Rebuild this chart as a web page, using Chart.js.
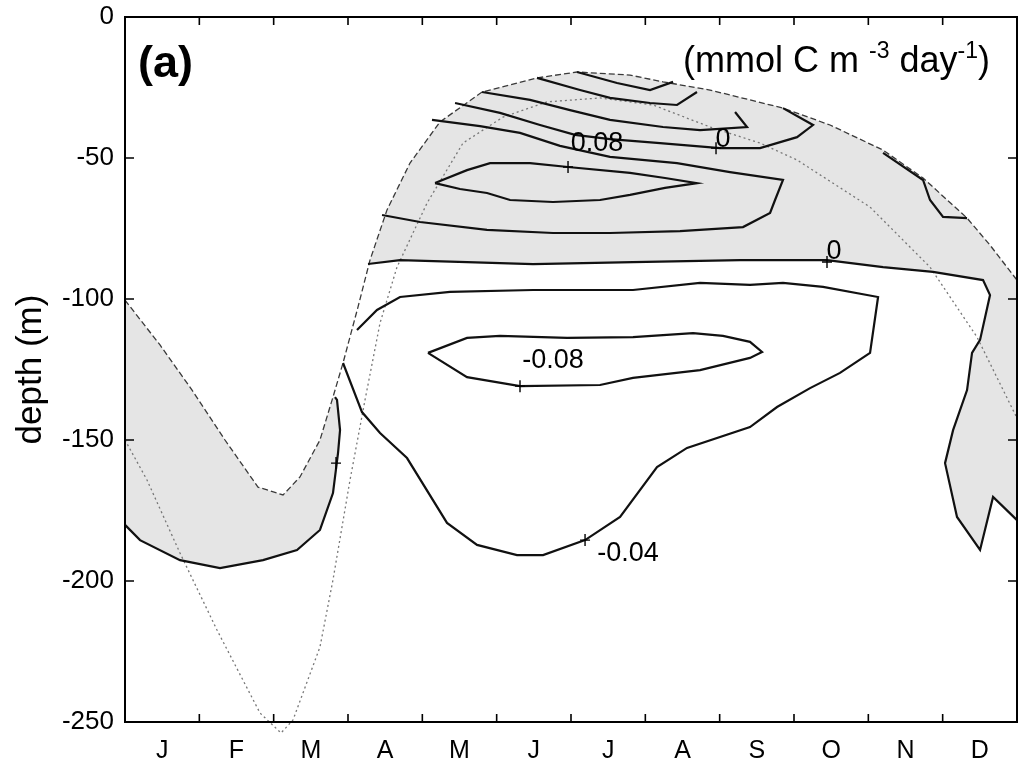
<!DOCTYPE html>
<html>
<head>
<meta charset="utf-8">
<script src="https://cdn.jsdelivr.net/npm/chart.js@4.4.1/dist/chart.umd.min.js"></script>
<style>
  html,body{margin:0;padding:0;background:#fff;}
  #wrap{position:relative;width:1021px;height:776px;}
  canvas{display:block;}
</style>
</head>
<body>
<div id="wrap"><canvas id="c" width="1021" height="776"></canvas></div>
<script>
// ---------- axis labels ----------
const months = ['J','F','M','A','M','J','J','A','S','O','N','D'];
const monthCenters = [0.5,1.5,2.5,3.5,4.5,5.5,6.5,7.5,8.5,9.5,10.5,11.5];
const monthEdges = [0,1,2,3,4,5,6,7,8,9,10,11,12];
const depthTicks = [0,-50,-100,-150,-200,-250];

// ---------- thin dashed curve (upper) ----------
const mldMonth = [0,0.471,0.902,1.345,1.789,2.126,2.354,2.623,2.798,2.933,3.135,3.296,3.525,3.834,4.238,4.803,5.543,6.081,6.794,7.238,7.870,8.852,9.485,10.198,10.736,11.328,11.637,12.0];
const mldDepth = [-100.4,-116.3,-132.3,-150.0,-166.7,-169.5,-163.1,-150.0,-134.8,-122.7,-102.8,-86.2,-68.4,-51.8,-37.2,-26.6,-21.6,-19.5,-20.6,-23.0,-25.9,-32.3,-38.3,-47.2,-57.1,-71.3,-80.9,-93.3];

// ---------- thin dotted curve (lower) ----------
const dotMonth = [0,0.296,0.740,1.238,1.816,2.099,2.260,2.623,2.798,3.027,3.229,3.431,3.659,4.063,4.547,5.085,5.677,6.390,7.103,7.870,8.543,9.041,10.023,10.830,11.462,11.947,12.0];
const dotDepth = [-150.0,-164.2,-190.1,-217.4,-246.8,-253.9,-249.3,-223.4,-199.6,-164.2,-135.8,-108.5,-88.7,-66.0,-44.7,-35.5,-30.1,-28.7,-31.2,-39.0,-44.7,-50.7,-67.4,-88.7,-113.5,-139.4,-142.2];

// ---------- contour: 0 (winter, left) ----------
const zeroWMonth = [0,0.202,0.740,1.278,1.857,2.314,2.623,2.798,2.866,2.893,2.852,2.825];
const zeroWDepth = [-180.1,-185.5,-192.6,-195.4,-192.6,-189.0,-181.9,-168.8,-154.6,-146.5,-135.8,-134.8];

// ---------- contour: 0 (main, ~ -88 m and right side) ----------
const zeroMonth = [3.269,3.700,4.601,5.489,6.834,8.274,9.444,10.198,10.870,11.543,11.637,11.503,11.395,11.328,11.140,11.032,11.193,11.503,11.678,12.0];
const zeroDepth = [-87.6,-86.2,-86.9,-87.6,-86.9,-86.2,-86.2,-88.7,-90.4,-93.3,-98.6,-114.5,-119.1,-132.3,-146.5,-158.2,-177.3,-189.0,-170.2,-178.4];

// ---------- contour: -0.04 ----------
const neg04Month = [3.121,3.390,3.700,4.372,5.489,6.834,7.736,8.408,8.852,9.391,10.131,10.023,9.619,9.216,8.772,8.408,7.561,7.157,6.660,6.189,5.624,5.274,4.736,4.332,3.794,3.431,3.188,2.933];
const neg04Depth = [-111.0,-103.9,-99.3,-97.5,-96.8,-96.8,-94.3,-95.0,-94.3,-95.7,-99.3,-119.1,-126.2,-131.6,-138.3,-145.4,-152.8,-159.6,-177.3,-185.5,-190.8,-190.8,-187.2,-179.4,-156.4,-147.5,-140.1,-122.7];

// ---------- contour: -0.08 ----------
const neg08Month = [4.076,4.601,5.045,5.947,6.834,7.642,8.045,8.408,8.570,8.408,7.736,6.834,6.390,5.314,4.601,4.076];
const neg08Depth = [-119.1,-113.8,-113.1,-113.8,-113.5,-112.1,-113.1,-115.2,-118.8,-120.9,-125.2,-128.0,-130.5,-130.9,-127.7,-119.1];

// ---------- contour: 0.04 ----------
const pos04Month = [4.130,4.776,5.314,5.852,6.525,7.426,8.139,8.852,8.745,8.678,8.314,7.467,6.525,5.758,4.870,3.969,3.458];
const pos04Depth = [-36.5,-38.7,-41.1,-45.7,-49.6,-51.8,-55.0,-57.8,-64.9,-69.5,-74.5,-75.9,-76.6,-76.6,-75.5,-72.7,-70.2];

// ---------- contour: 0.08 ----------
const pos08Month = [4.171,4.601,4.911,5.449,5.960,6.794,7.265,7.695,7.265,6.794,6.390,5.758,5.180,4.870,4.507,4.171];
const pos08Depth = [-58.9,-54.3,-51.8,-51.8,-53.2,-55.3,-57.1,-58.9,-60.6,-63.1,-64.9,-65.6,-64.9,-62.4,-61.0,-58.9];

// ---------- upper contours near the surface ----------
const top1Month = [6.081,6.619,7.063,7.373];
const top1Depth = [-19.5,-23.4,-25.9,-23.0];
const top2Month = [5.543,6.121,6.525,7.063,7.426,7.695];
const top2Depth = [-21.6,-25.9,-28.7,-30.5,-31.2,-26.6];
const top3Month = [4.803,5.449,5.987,6.525,7.238,7.736,8.368,8.207];
const top3Depth = [-26.6,-29.4,-33.0,-36.5,-39.0,-40.1,-39.0,-33.7];
const top4Month = [4.440,5.045,5.583,6.054,6.525,7.198,8.005,8.543,9.041,9.256,8.852];
const top4Depth = [-30.5,-34.0,-38.3,-41.8,-43.3,-44.7,-46.5,-46.5,-42.6,-38.3,-32.3];
const novMonth = [10.198,10.736,10.830,11.005,11.328];
const novDepth = [-48.2,-57.8,-64.9,-70.9,-71.3];

// ---------- contour labels and their marks ----------
const labelText = ['0.08','0','0','-0.08','-0.04'];
const labelMonth = [6.350,8.045,9.539,5.758,6.767];
const labelDepth = [-44.7,-43.6,-83.3,-122.0,-190.1];
const markMonth = [5.960,7.951,9.444,5.314,6.189,2.839];
const markDepth = [-53.2,-46.5,-86.9,-130.9,-185.5,-158.2];

// ---------- build ----------
const FONT = '"Liberation Sans", Arial, Helvetica, sans-serif';
function pts(xs, ys){ return xs.map((v,i)=>({x:v, y:ys[i]})); }
function contour(xs, ys){
  return {data:pts(xs,ys), showLine:true, borderColor:'#111', borderWidth:2.2,
          pointRadius:0, pointHoverRadius:0, tension:0, fill:false, order:1};
}
// shaded regions (positive values) built from curves above
const shadeLeft = pts(mldMonth.slice(0,9), mldDepth.slice(0,9))
  .concat(pts(zeroWMonth, zeroWDepth).reverse());
const shadeTop = pts(mldMonth.slice(11), mldDepth.slice(11))
  .concat(pts(zeroMonth, zeroDepth).reverse());

const SHADE = '#e5e5e5';
const datasets = [
  contour(zeroWMonth, zeroWDepth),
  contour(zeroMonth, zeroDepth),
  contour(neg04Month, neg04Depth),
  contour(neg08Month, neg08Depth),
  contour(pos04Month, pos04Depth),
  contour(pos08Month, pos08Depth),
  contour(top1Month, top1Depth),
  contour(top2Month, top2Depth),
  contour(top3Month, top3Depth),
  contour(top4Month, top4Depth),
  contour(novMonth, novDepth),
  {data:pts(mldMonth, mldDepth), showLine:true, borderColor:'#3a3a3a', borderWidth:1.3,
   borderDash:[6,3], pointRadius:0, tension:0, fill:false, order:2},
  {data:pts(dotMonth, dotDepth), showLine:true, borderColor:'#777', borderWidth:1.3,
   borderDash:[2,3], pointRadius:0, tension:0, fill:false, order:2, clip:false},
  {data:shadeLeft, showLine:true, borderWidth:0, borderColor:'rgba(0,0,0,0)',
   backgroundColor:SHADE, fill:'shape', pointRadius:0, tension:0, order:10},
  {data:shadeTop, showLine:true, borderWidth:0, borderColor:'rgba(0,0,0,0)',
   backgroundColor:SHADE, fill:'shape', pointRadius:0, tension:0, order:10}
];

const decor = {
  id:'decor',
  afterDatasetsDraw(chart){
    const {ctx, chartArea:a, scales:{x, y}} = chart;
    ctx.save();
    ctx.strokeStyle = '#000';
    // frame
    ctx.lineWidth = 2;
    ctx.strokeRect(a.left, a.top, a.right - a.left, a.bottom - a.top);
    // inward ticks
    ctx.lineWidth = 1.6;
    ctx.beginPath();
    monthEdges.forEach(m => {
      const px = x.getPixelForValue(m);
      ctx.moveTo(px, a.bottom); ctx.lineTo(px, a.bottom - 8);
      ctx.moveTo(px, a.top); ctx.lineTo(px, a.top + 8);
    });
    depthTicks.forEach(d => {
      const py = y.getPixelForValue(d);
      ctx.moveTo(a.left, py); ctx.lineTo(a.left + 9, py);
      ctx.moveTo(a.right, py); ctx.lineTo(a.right - 9, py);
    });
    ctx.stroke();
    // contour label marks (+)
    ctx.lineWidth = 1.4;
    ctx.beginPath();
    markMonth.forEach((m, i) => {
      const px = x.getPixelForValue(m), py = y.getPixelForValue(markDepth[i]);
      ctx.moveTo(px - 5, py); ctx.lineTo(px + 5, py);
      ctx.moveTo(px, py - 6); ctx.lineTo(px, py + 6);
    });
    ctx.stroke();
    // contour labels
    ctx.fillStyle = '#000';
    ctx.font = '27px ' + FONT;
    ctx.textAlign = 'center';
    ctx.textBaseline = 'middle';
    labelText.forEach((t, i) => {
      ctx.fillText(t, x.getPixelForValue(labelMonth[i]), y.getPixelForValue(labelDepth[i]));
    });
    // panel letter
    ctx.textAlign = 'left';
    ctx.textBaseline = 'alphabetic';
    ctx.font = 'bold 45px ' + FONT;
    ctx.fillText('(a)', a.left + 13, a.top + 60);
    // units
    const mainF = '36px ' + FONT, supF = '23px ' + FONT;
    const parts = [['(mmol C m ',0],['-3',1],[' day',0],['-1',1],[')',0]];
    let total = 0;
    parts.forEach(p => { ctx.font = p[1] ? supF : mainF; total += ctx.measureText(p[0]).width; });
    let xx = a.right - 27 - total;
    const base = a.top + 55;
    parts.forEach(p => {
      ctx.font = p[1] ? supF : mainF;
      ctx.fillText(p[0], xx, p[1] ? base - 14 : base);
      xx += ctx.measureText(p[0]).width;
    });
    ctx.restore();
  }
};

Chart.defaults.font.family = FONT;
Chart.defaults.color = '#000';

new Chart(document.getElementById('c'), {
  type:'scatter',
  data:{datasets},
  options:{
    responsive:false,
    animation:false,
    devicePixelRatio:1,
    layout:{padding:{top:17, right:4, bottom:0, left:0}},
    plugins:{legend:{display:false}, tooltip:{enabled:false}},
    scales:{
      x:{
        type:'linear', min:0, max:12,
        afterBuildTicks: s => { s.ticks = monthCenters.map(v => ({value:v})); },
        afterFit: s => { s.height = 54; s.paddingLeft = 0; s.paddingRight = 0; },
        ticks:{callback:(v, i) => months[i], font:{size:25}, color:'#000', padding:14,
               autoSkip:false, maxRotation:0},
        grid:{display:false, drawTicks:false},
        border:{display:false}
      },
      y:{
        type:'linear', min:-250, max:0,
        afterBuildTicks: s => { s.ticks = depthTicks.map(v => ({value:v})); },
        afterFit: s => { s.width = 125; s.paddingTop = 0; s.paddingBottom = 0; },
        ticks:{callback: v => String(v), font:{size:26}, color:'#000', padding:11},
        grid:{display:false, drawTicks:false},
        border:{display:false},
        title:{display:true, text:'depth (m)', font:{size:35}, color:'#000',
               padding:{top:10, bottom:0}}
      }
    }
  },
  plugins:[decor]
});
</script>
</body>
</html>
